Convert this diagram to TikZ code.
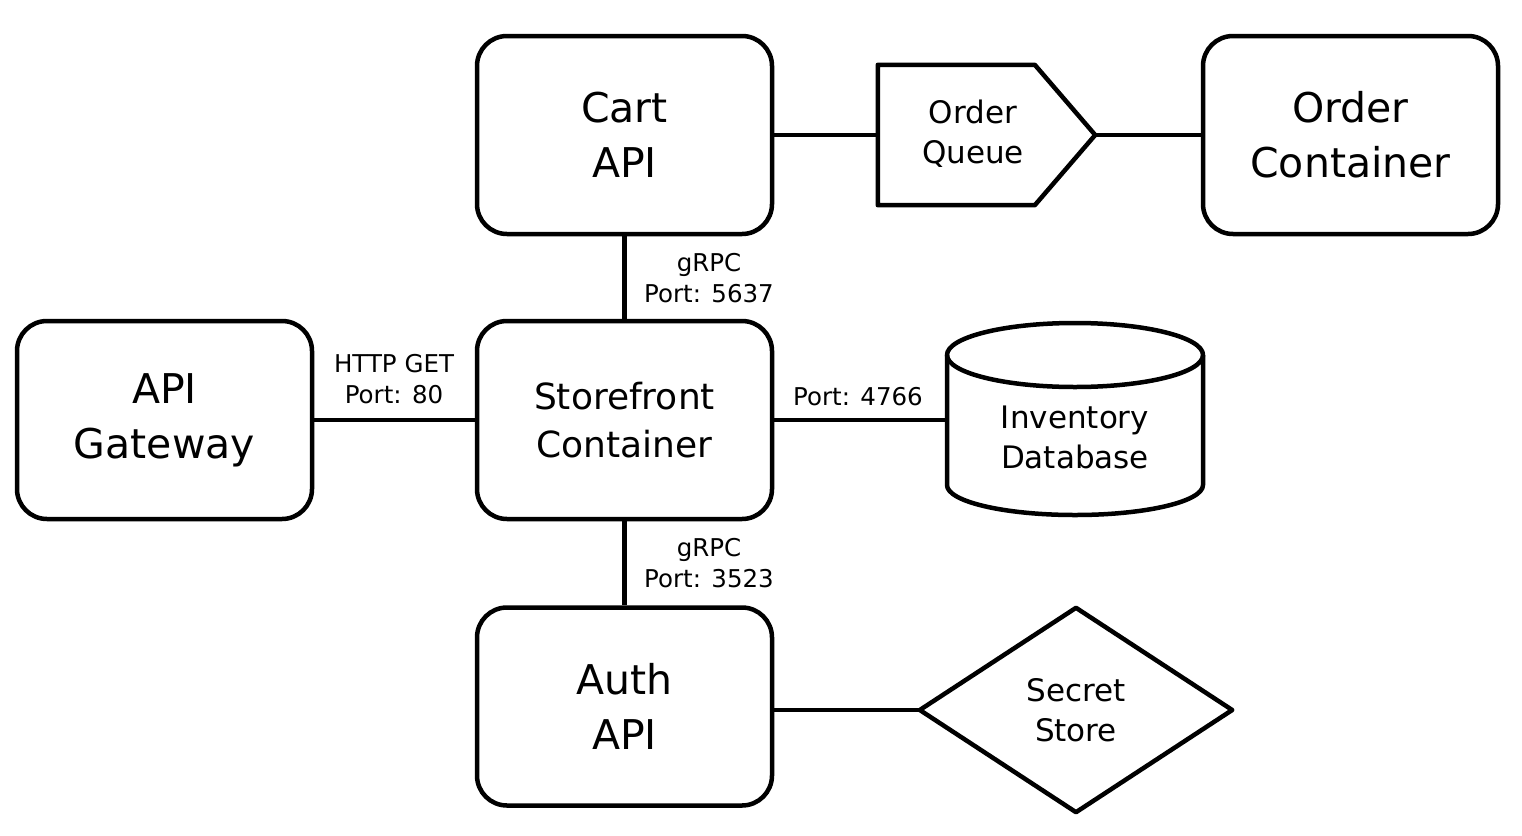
\documentclass[tikz,border=0pt]{standalone}
\usepackage{fontspec}
\setmainfont{DejaVu Sans}
\newcommand\bigf{\fontsize{41}{55}\selectfont}
\newcommand\medf{\fontsize{36}{48}\selectfont}
\newcommand\midf{\fontsize{31}{40}\selectfont}
\newcommand\smallf{\fontsize{24.5}{31}\selectfont}
\begin{document}
\begin{tikzpicture}[x=1pt,y=-1pt,
  box/.style={draw, line width=4.5pt, rounded corners=30pt, minimum width=295pt, minimum height=198pt, inner sep=0pt, align=center, font=\bigf},
  ghost/.style={inner sep=0pt, align=center, font=\midf},
  shapeline/.style={line width=4.5pt, line join=round},
  conn/.style={line width=4.5pt},
  lbl/.style={align=center, font=\smallf, inner sep=0pt}]
\useasboundingbox (0,0) rectangle (1522,835);
% boxes
\node[box] (cart) at (624.5,135) {Cart\\API};
\node[box] (order) at (1350.5,135) {Order\\Container};
\node[box] (gw) at (164.5,420) {API\\Gateway};
\node[box, font=\medf] (store) at (624.5,420) {Storefront\\Container};
\node[box] (auth) at (624.5,706.5) {Auth\\API};
% order queue
\node[ghost, minimum width=217pt, minimum height=140pt] (queue) at (986.5,135) {};
\draw[shapeline] (queue.north west) -- ([xshift=157pt]queue.north west) -- (queue.east) -- ([xshift=157pt]queue.south west) -- (queue.south west) -- cycle;
\node[ghost] (queuetext) at (973,134) {Order\\Queue};
% inventory database
\node[ghost, minimum width=256pt, minimum height=194pt] (db) at (1075,420) {};
\draw[shapeline] (947,355) -- (947,485) arc[start angle=180, end angle=0, x radius=128, y radius=30] -- (1203,355);
\draw[shapeline] (1075,355) ellipse[x radius=128, y radius=32];
\node[ghost] (dbtext) at (1075,437) {Inventory\\Database};
% secret store
\node[ghost, minimum width=312pt, minimum height=204pt] (secret) at (1076,710) {Secret\\Store};
\draw[shapeline] (secret.west) -- (secret.north) -- (secret.east) -- (secret.south) -- cycle;
% connectors
\draw[conn] (cart.east) -- (queue.west);
\draw[conn] (queue.east) -- (order.west);
\draw[conn] (cart.south) -- (store.north);
\draw[conn] (gw.east) -- (store.west);
\draw[conn] (store.east) -- (db.west);
\draw[conn] (store.south) -- (auth.north);
\draw[conn] (secret.west -| auth.east) -- (secret.west);
% labels
\node[lbl] (l1) at (709,278) {gRPC\\Port: 5637};
\node[lbl] (l2) at (394,379) {HTTP GET\\Port: 80};
\node[lbl] (l3) at (858,397) {Port: 4766};
\node[lbl] (l4) at (709,563) {gRPC\\Port: 3523};
\end{tikzpicture}
\end{document}
